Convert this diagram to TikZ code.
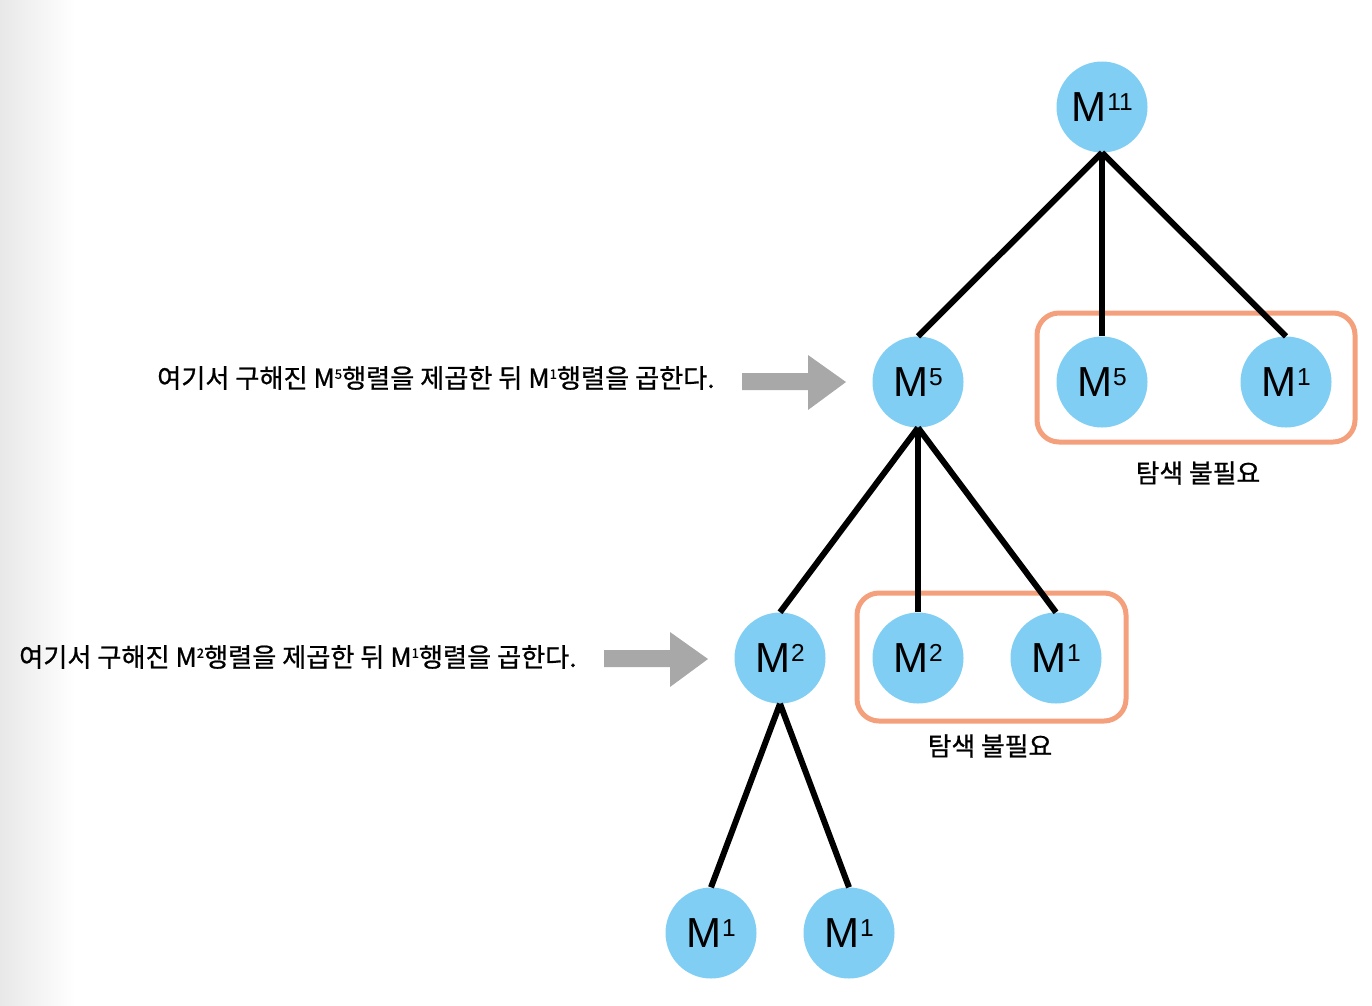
\documentclass[tikz,border=0pt]{standalone}
\usepackage{fontspec}
\setmainfont{Liberation Sans}
\newfontfamily\krfont[FakeBold=0.8]{Noto Sans CJK KR}
\definecolor{nodeblue}{HTML}{80CEF4}
\definecolor{boxorange}{HTML}{F4A07C}
\definecolor{arrowgray}{HTML}{A8A8A8}
\newcommand\nsup[1]{\hspace{1pt}\raisebox{11pt}{\fontsize{24.5}{24.5}\selectfont #1}}
\newcommand\tsup[1]{\raisebox{9pt}{\fontsize{13}{13}\selectfont #1}}
\tikzset{
  mnode/.style={circle, fill=nodeblue, minimum size=91pt, inner sep=0pt,
    font=\fontsize{42}{42}\selectfont},
  edge/.style={line width=6pt, black},
  obox/.style={draw=boxorange, line width=5pt, rounded corners=22pt, inner sep=0pt},
  klabel/.style={font=\krfont\fontsize{25.8}{25.8}\selectfont, inner sep=0pt},
  ktext/.style={font=\krfont\fontsize{26.2}{26.2}\selectfont, inner sep=0pt, anchor=west},
}
\begin{document}
\begin{tikzpicture}[x=1pt,y=-1pt]
\useasboundingbox (0,0) rectangle (1372,1005);
\shade[left color=black!9, right color=white] (0,0) rectangle (75,1005);

% orange boxes
\node[obox, minimum width=318pt, minimum height=129pt] (box1) at (1196,377.5) {};
\node[obox, minimum width=269pt, minimum height=128pt] (box2) at (991.5,657) {};
\node[klabel] (lab1) at (1198,473) {탐색 불필요};
\node[klabel] (lab2) at (990,746) {탐색 불필요};

% nodes
\node[mnode] (m11) at (1102,107) {M\nsup{11}};
\node[mnode] (m5) at (918,382) {M\nsup{5}};
\node[mnode] (m5b) at (1102,382) {M\nsup{5}};
\node[mnode] (m1b) at (1286,382) {M\nsup{1}};
\node[mnode] (m2) at (780,658) {M\nsup{2}};
\node[mnode] (m2b) at (918,658) {M\nsup{2}};
\node[mnode] (m1c) at (1056,658) {M\nsup{1}};
\node[mnode] (m1d) at (711,933) {M\nsup{1}};
\node[mnode] (m1e) at (849,933) {M\nsup{1}};

% edges
\draw[edge] (m11.south) -- (m5.north);
\draw[edge] (m11.south) -- (m5b.north);
\draw[edge] (m11.south) -- (m1b.north);
\draw[edge] (m5.south) -- (m2.north);
\draw[edge] (m5.south) -- (m2b.north);
\draw[edge] (m5.south) -- (m1c.north);
\draw[edge] (m2.south) -- (m1d.north);
\draw[edge] (m2.south) -- (m1e.north);

% explanations
\node[ktext] (t1) at (157,378) {여기서 구해진 M\tsup{5}행렬을 제곱한 뒤 M\tsup{1}행렬을 곱한다.};
\node[ktext] (t2) at (19,657) {여기서 구해진 M\tsup{2}행렬을 제곱한 뒤 M\tsup{1}행렬을 곱한다.};

% gray block arrows
\fill[arrowgray] (742,373) -- (808,373) -- (808,355) -- (846,382) -- (808,410) -- (808,390) -- (742,390) -- cycle;
\fill[arrowgray] (604,650) -- (670,650) -- (670,632) -- (708,659) -- (670,687) -- (670,667) -- (604,667) -- cycle;
\end{tikzpicture}
\end{document}
